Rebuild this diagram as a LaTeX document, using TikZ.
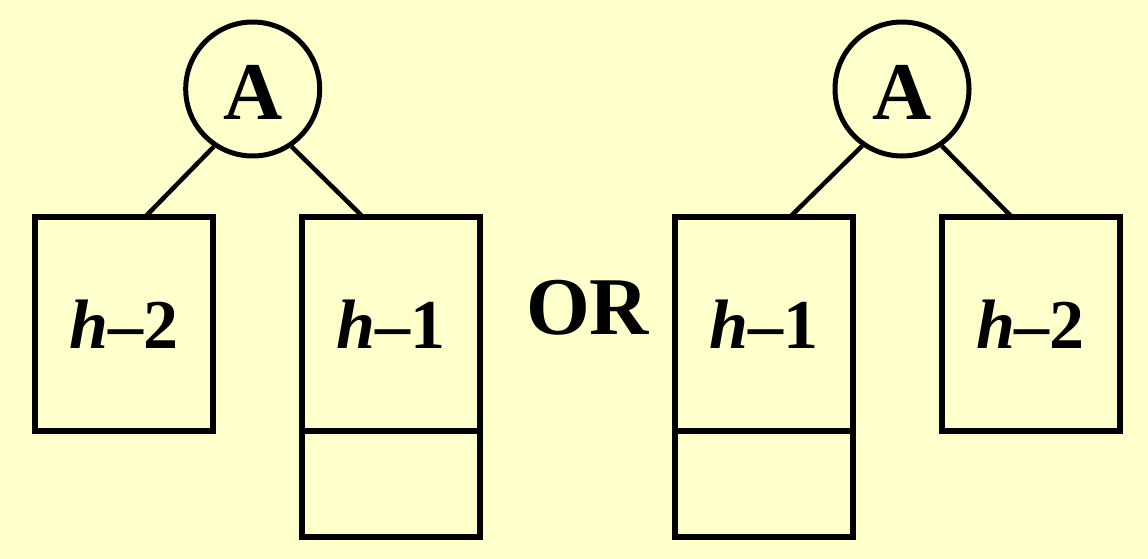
\documentclass[tikz,border=0pt]{standalone}
\usepackage{fontspec}
\setmainfont{Liberation Serif}
\usetikzlibrary{calc,positioning}
\definecolor{paleyellow}{RGB}{255,255,204}
\begin{document}
\begin{tikzpicture}[x=1pt,y=-1pt,
        root/.style={draw,circle,line width=5pt,minimum size=134pt,inner sep=0pt,text height=62pt,text depth=0pt,font=\fontsize{82}{90}\selectfont\bfseries},
        subtree/.style={draw,line width=6pt,minimum width=178pt,minimum height=214pt,inner sep=0pt,outer sep=0pt,font=\fontsize{70}{80}\selectfont\bfseries},
        extra/.style={draw,line width=6pt,minimum width=178pt,minimum height=106pt,inner sep=0pt,outer sep=0pt},
        branch/.style={line width=4.5pt}]
        \fill[paleyellow](0,0)rectangle(1148,559);
        \useasboundingbox(0,0)rectangle(1148,559);
        % left tree
        \node[root](rootL)at(252.7,89){A};
        \node[subtree](leftLow)at(124,324){\textit{h}\textendash2};
        \node[subtree](leftHigh)at(391,324){\textit{h}\textendash1};
        \node[extra,below=0pt of leftHigh](leftExtra){};
        \draw[branch](rootL.236)--($(leftLow.north west)!0.618!(leftLow.north east)$);
        \draw[branch](rootL.304)--($(leftHigh.north west)!0.343!(leftHigh.north east)$);
        \node[font=\fontsize{82}{90}\selectfont\bfseries](or)at(587.5,308){OR};
        % right tree
        \node[root](rootR)at(902,89){A};
        \node[subtree](rightHigh)at(764,324){\textit{h}\textendash1};
        \node[extra,below=0pt of rightHigh](rightExtra){};
        \node[subtree](rightLow)at(1030.5,324){\textit{h}\textendash2};
        \draw[branch](rootR.235)--($(rightHigh.north west)!0.646!(rightHigh.north east)$);
        \draw[branch](rootR.305)--($(rightLow.north west)!0.395!(rightLow.north east)$);
    \end{tikzpicture}
\end{document}
